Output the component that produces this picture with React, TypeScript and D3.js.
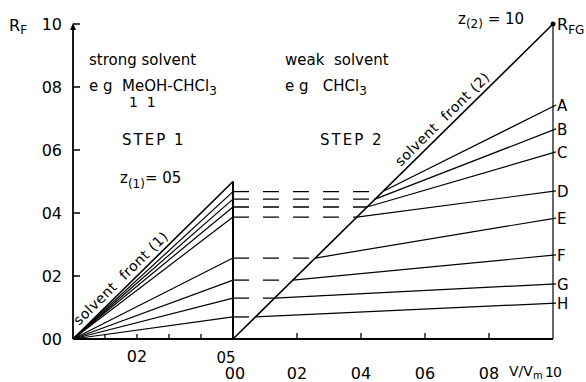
import React from "react";
import * as d3 from "d3";

const compounds = ["A", "B", "C", "D", "E", "F", "G", "H"];
const step1Rf = [0.468, 0.444, 0.419, 0.387, 0.257, 0.187, 0.13, 0.07];
const finalRf = [0.743, 0.667, 0.594, 0.47, 0.384, 0.267, 0.175, 0.114];
const front1Rf = 0.5;
const yTicks = [0, 0.2, 0.4, 0.6, 0.8, 1.0];
const yTickLabels = ["00", "02", "04", "06", "08", "10"];
const step1Ticks = [0.1, 0.2, 0.3, 0.4];
const step2Ticks = [0.2, 0.4, 0.6, 0.8];
const step2TickLabels = ["02", "04", "06", "08"];

const W = 586;
const H = 382;
const FONT = "'DejaVu Sans', sans-serif";
const pre: React.CSSProperties = { whiteSpace: "pre" };

export default function App() {
  const x1 = d3.scaleLinear().domain([0, 0.5]).range([73, 233]);
  const x2 = d3.scaleLinear().domain([0, 1]).range([233, 553]);
  const y = d3.scaleLinear().domain([0, 1]).range([339, 24]);
  const line = d3.line<[number, number]>().x((d) => d[0]).y((d) => d[1]);

  const ang1 = (Math.atan2(y(front1Rf) - y(0), x1(0.5) - x1(0)) * 180) / Math.PI;
  const ang2 = (Math.atan2(y(1) - y(0), x2(1) - x2(0)) * 180) / Math.PI;

  const t1 = 0.03;
  const t2 = 0.535;

  return (
    <svg width={W} height={H} style={{ position: "absolute", left: 0, top: 0, background: "#fff" }} fontFamily={FONT}>
      <rect width={W} height={H} fill="#fff" />
      {/* left axis */}
      <path d={line([[x1(0), y(0)], [x1(0), y(1) + 2]]) || ""} stroke="#000" strokeWidth={1.8} fill="none" />
      <path d={`M${x1(0) - 3},${y(1) + 6} L${x1(0)},${y(1) - 1} L${x1(0) + 3},${y(1) + 6} Z`} fill="#000" />
      {yTicks.map((v, i) => (
        <g key={"yt" + i}>
          {i > 0 && <line x1={x1(0)} x2={x1(0) + 7} y1={y(v)} y2={y(v)} stroke="#000" strokeWidth={1.5} />}
          <text x={62} y={y(v) + 6} fontSize={16} textAnchor="end" fill="#000">{yTickLabels[i]}</text>
        </g>
      ))}
      <text x={9} y={31} fontSize={16} fill="#000">R<tspan fontSize={12} dy={3}>F</tspan></text>

      {/* bottom axis */}
      <line x1={x1(0)} x2={x2(1)} y1={y(0)} y2={y(0)} stroke="#000" strokeWidth={1.8} />
      {step1Ticks.map((v, i) => (
        <line key={"s1t" + i} x1={x1(v)} x2={x1(v)} y1={y(0)} y2={y(0) - 5} stroke="#000" strokeWidth={1.3} />
      ))}
      {step2Ticks.map((v, i) => (
        <g key={"s2t" + i}>
          <line x1={x2(v)} x2={x2(v)} y1={y(0)} y2={y(0) - 6} stroke="#000" strokeWidth={1.3} />
          <text x={x2(v)} y={379} fontSize={16} textAnchor="middle" fill="#000">{step2TickLabels[i]}</text>
        </g>
      ))}
      <text x={x1(0.2)} y={362} fontSize={16} textAnchor="middle" fill="#000">02</text>
      <text x={x1(0.5) - 7} y={363} fontSize={15} textAnchor="middle" fill="#000">05</text>
      <text x={x2(0) + 2} y={379} fontSize={16} textAnchor="middle" fill="#000">00</text>
      <text x={509} y={376} fontSize={14} fill="#000">V/V<tspan fontSize={10} dy={3}>m</tspan></text>
      <text x={545} y={377} fontSize={14} fill="#000" letterSpacing={-1}>10</text>

      {/* right axis */}
      <line x1={x2(1)} x2={x2(1)} y1={y(1)} y2={y(0)} stroke="#000" strokeWidth={1.2} />
      <circle cx={x2(1)} cy={y(1)} r={2.5} fill="#000" />
      <text x={557} y={30} fontSize={16} fill="#000">R<tspan fontSize={12} dy={4}>FG</tspan></text>

      {/* step 1 lines */}
      <path d={line([[x1(0), y(0)], [x1(0.5), y(front1Rf)]]) || ""} stroke="#000" strokeWidth={1.6} fill="none" />
      {step1Rf.map((v, i) => (
        <path key={"l1" + i} d={line([[x1(0), y(0)], [x1(0.5), y(v)]]) || ""} stroke="#000" strokeWidth={1.2} fill="none" />
      ))}
      <line x1={x1(0.5)} x2={x1(0.5)} y1={y(front1Rf)} y2={y(0)} stroke="#000" strokeWidth={2} />

      {/* step 2 front */}
      <path d={line([[x2(0), y(0)], [x2(1), y(1)]]) || ""} stroke="#000" strokeWidth={1.6} fill="none" />

      {/* dashed carry-over and step-2 lines */}
      {step1Rf.map((v, i) => (
        <g key={"l2" + i}>
          <line x1={x2(0)} x2={x2(v)} y1={y(v)} y2={y(v)} stroke="#000" strokeWidth={1.3} strokeDasharray="16,14" />
          <path d={line([[x2(v), y(v)], [x2(1) + 3, y(finalRf[i])]]) || ""} stroke="#000" strokeWidth={1.2} fill="none" />
          <text x={557} y={y(finalRf[i]) + 6} fontSize={15} fill="#000">{compounds[i]}</text>
        </g>
      ))}

      {/* annotations */}
      <text x={89} y={65} fontSize={15} fill="#000" style={pre}>strong solvent</text>
      <text x={89} y={91} fontSize={15} fill="#000" style={pre}>e g  MeOH-CHCl<tspan fontSize={12} dy={4}>3</tspan></text>
      <text x={129} y={107} fontSize={14} fill="#000" style={pre}>1  1</text>
      <text x={285} y={65} fontSize={15} fill="#000" style={pre}>weak  solvent</text>
      <text x={285} y={91} fontSize={15} fill="#000" style={pre}>e g   CHCl<tspan fontSize={12} dy={4}>3</tspan></text>
      <text x={122} y={145} fontSize={15} fill="#000" letterSpacing={2} style={pre}>STEP 1</text>
      <text x={320} y={145} fontSize={15} fill="#000" letterSpacing={2} style={pre}>STEP 2</text>
      <text x={120} y={183} fontSize={15} fill="#000" style={pre}>z<tspan fontSize={12} dy={5}>(1)</tspan><tspan dy={-5} fontSize={15}>= 05</tspan></text>
      <text x={458} y={24} fontSize={15} fill="#000" style={pre}>z<tspan fontSize={12} dy={4}>(2)</tspan><tspan dy={-4} fontSize={15}> = 10</tspan></text>

      <text transform={`translate(${x1(t1)},${y(t1)}) rotate(${ang1})`} dy={-5} fontSize={14} fill="#000" letterSpacing={0.5} style={pre}>solvent  front (1)</text>
      <text transform={`translate(${x2(t2)},${y(t2)}) rotate(${ang2})`} dy={-5} fontSize={14} fill="#000" letterSpacing={0.5} style={pre}>solvent  front (2)</text>
    </svg>
  );
}
